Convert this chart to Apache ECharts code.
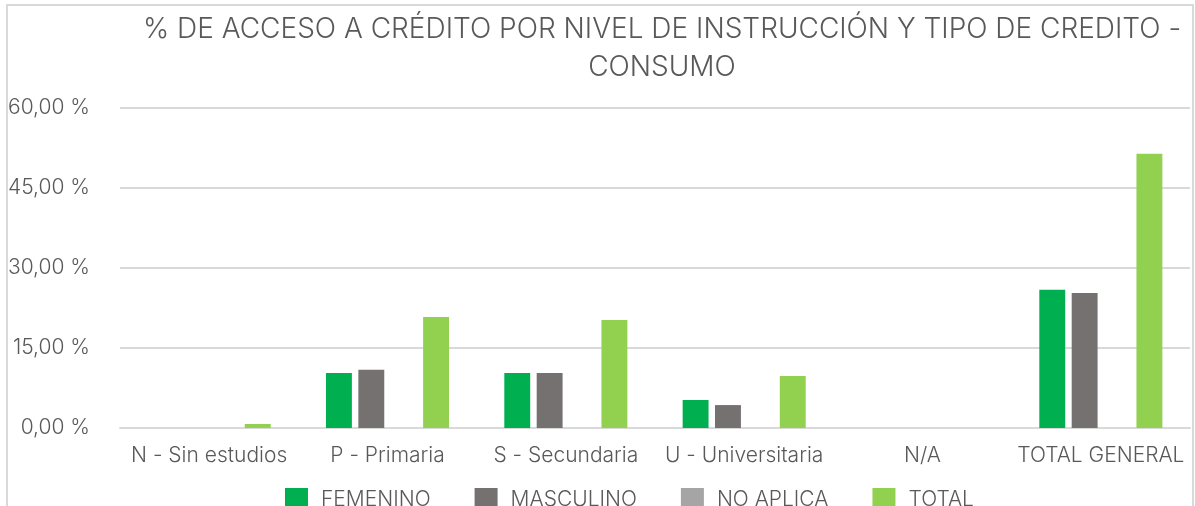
<!DOCTYPE html>
<html>
<head>
<meta charset="utf-8">
<script src="https://cdn.jsdelivr.net/npm/echarts@6/dist/echarts.min.js"></script>
<style>
  html, body { margin: 0; padding: 0; background: #fff; }
  #chart { width: 1195px; height: 506px; }
</style>
</head>
<body>
<div id="chart"></div>
<script>
var categories = ['N - Sin estudios', 'P - Primaria', 'S - Secundaria', 'U - Universitaria', 'N/A', 'TOTAL GENERAL'];
var femenino  = [0, 10.3, 10.3, 5.25, 0, 25.9];
var masculino = [0, 10.9, 10.3, 4.3, 0, 25.3];
var noAplica  = [0, 0, 0, 0, 0, 0];
var total     = [0.75, 20.8, 20.25, 9.75, 0, 51.4];

var font = 'Inter, "Noto Sans", sans-serif';
var txt = '#595959';

function bar(name, data, color) {
    return {
        name: name,
        type: 'bar',
        data: data,
        barGap: '25%',
        barCategoryGap: '31%',
        itemStyle: { color: color },
        emphasis: { disabled: true }
    };
}

var chart = echarts.init(document.getElementById('chart'));
chart.setOption({
    animation: false,
    title: {
        text: '% DE ACCESO A CRÉDITO POR NIVEL DE INSTRUCCIÓN Y TIPO DE CREDITO -\nCONSUMO',
        left: 657,
        top: 6,
        textAlign: 'center',
        textStyle: {
            fontFamily: font,
            fontWeight: 300,
            fontSize: 28,
            lineHeight: 38,
            color: txt
        }
    },
    graphic: [
        {
            type: 'polyline',
            silent: true,
            shape: { points: [[7, 506], [7, 5], [1193, 5], [1193, 506]] },
            style: { stroke: '#d9d9d9', lineWidth: 2, fill: null }
        }
    ],
    legend: {
        data: ['FEMENINO', 'MASCULINO', 'NO APLICA', 'TOTAL'],
        left: 280,
        top: 483,
        itemWidth: 23,
        itemHeight: 23,
        itemGap: 44,
        icon: 'rect',
        textStyle: {
            fontFamily: font,
            fontWeight: 300,
            fontSize: 21,
            color: txt,
            padding: [0, 0, 0, 8]
        }
    },
    grid: {
        left: 120,
        right: 5,
        top: 108,
        bottom: 78,
        containLabel: false
    },
    xAxis: {
        type: 'category',
        data: categories,
        axisTick: { show: false },
        axisLine: { lineStyle: { color: '#d9d9d9', width: 2 } },
        axisLabel: {
            margin: 17,
            fontFamily: font,
            fontWeight: 300,
            fontSize: 21,
            color: txt,
            interval: 0
        }
    },
    yAxis: {
        type: 'value',
        min: 0,
        max: 60,
        interval: 15,
        axisLine: { show: false },
        axisTick: { show: false },
        splitLine: { lineStyle: { color: '#d9d9d9', width: 2 } },
        axisLabel: {
            margin: 30,
            fontFamily: font,
            fontWeight: 300,
            fontSize: 21,
            color: txt,
            formatter: function (v) { return v.toFixed(2).replace('.', ',') + ' %'; }
        }
    },
    series: [
        bar('FEMENINO', femenino, '#00b050'),
        bar('MASCULINO', masculino, '#767171'),
        bar('NO APLICA', noAplica, '#a5a5a5'),
        bar('TOTAL', total, '#92d050')
    ]
});
</script>
</body>
</html>
